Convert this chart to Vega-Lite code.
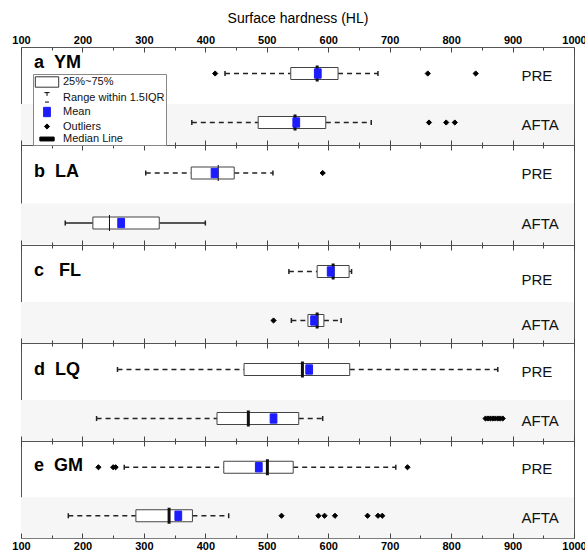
{
  "$schema": "https://vega.github.io/schema/vega-lite/v6.json",
  "padding": {"left": 11, "top": 10, "right": 0, "bottom": 0},
  "bounds": "flush",
  "spacing": 0,
  "config": {
    "font": "Liberation Sans",
    "view": {"stroke": "#555555", "strokeWidth": 1},
    "concat": {"spacing": 0},
    "tick": {"opacity": 1},
    "axis": {"tickColor": "#444444", "domain": false, "grid": false, "labelFlush": false, "labelOverlap": false},
    "title": {"anchor": "start", "frame": "group", "baseline": "alphabetic", "fontSize": 18, "fontWeight": "bold", "color": "#000000", "dx": 13}
  },
  "datasets": {
    "boxes": [
      {"panel": "a", "group": "PRE", "lo": 432, "q1": 539, "med": 582, "q3": 616, "hi": 681},
      {"panel": "a", "group": "AFTA", "lo": 378, "q1": 486, "med": 546, "q3": 596, "hi": 670},
      {"panel": "b", "group": "PRE", "lo": 303, "q1": 377, "med": 421, "q3": 447, "hi": 510},
      {"panel": "b", "group": "AFTA", "lo": 172, "q1": 217, "med": 244, "q3": 325, "hi": 400},
      {"panel": "c", "group": "PRE", "lo": 536, "q1": 582, "med": 608, "q3": 634, "hi": 638},
      {"panel": "c", "group": "AFTA", "lo": 540, "q1": 567, "med": 582, "q3": 593, "hi": 621},
      {"panel": "d", "group": "PRE", "lo": 257, "q1": 463, "med": 558, "q3": 635, "hi": 876},
      {"panel": "d", "group": "AFTA", "lo": 223, "q1": 419, "med": 470, "q3": 552, "hi": 591},
      {"panel": "e", "group": "PRE", "lo": 268, "q1": 430, "med": 501, "q3": 543, "hi": 710},
      {"panel": "e", "group": "AFTA", "lo": 177, "q1": 287, "med": 341, "q3": 379, "hi": 438}
    ],
    "points": [
      {"panel": "a", "group": "PRE", "kind": "Outliers", "v": 416},
      {"panel": "a", "group": "PRE", "kind": "Outliers", "v": 762},
      {"panel": "a", "group": "PRE", "kind": "Outliers", "v": 840},
      {"panel": "a", "group": "PRE", "kind": "Mean", "v": 583},
      {"panel": "a", "group": "AFTA", "kind": "Outliers", "v": 764},
      {"panel": "a", "group": "AFTA", "kind": "Outliers", "v": 792},
      {"panel": "a", "group": "AFTA", "kind": "Outliers", "v": 806},
      {"panel": "a", "group": "AFTA", "kind": "Mean", "v": 548},
      {"panel": "b", "group": "PRE", "kind": "Outliers", "v": 591},
      {"panel": "b", "group": "PRE", "kind": "Mean", "v": 415},
      {"panel": "b", "group": "AFTA", "kind": "Mean", "v": 263},
      {"panel": "c", "group": "PRE", "kind": "Mean", "v": 604},
      {"panel": "c", "group": "AFTA", "kind": "Outliers", "v": 511},
      {"panel": "c", "group": "AFTA", "kind": "Mean", "v": 577},
      {"panel": "d", "group": "PRE", "kind": "Mean", "v": 569},
      {"panel": "d", "group": "AFTA", "kind": "Outliers", "v": 856},
      {"panel": "d", "group": "AFTA", "kind": "Outliers", "v": 860},
      {"panel": "d", "group": "AFTA", "kind": "Outliers", "v": 864},
      {"panel": "d", "group": "AFTA", "kind": "Outliers", "v": 868},
      {"panel": "d", "group": "AFTA", "kind": "Outliers", "v": 872},
      {"panel": "d", "group": "AFTA", "kind": "Outliers", "v": 876},
      {"panel": "d", "group": "AFTA", "kind": "Outliers", "v": 880},
      {"panel": "d", "group": "AFTA", "kind": "Outliers", "v": 884},
      {"panel": "d", "group": "AFTA", "kind": "Mean", "v": 511},
      {"panel": "e", "group": "PRE", "kind": "Outliers", "v": 226},
      {"panel": "e", "group": "PRE", "kind": "Outliers", "v": 250},
      {"panel": "e", "group": "PRE", "kind": "Outliers", "v": 254},
      {"panel": "e", "group": "PRE", "kind": "Outliers", "v": 729},
      {"panel": "e", "group": "PRE", "kind": "Mean", "v": 487},
      {"panel": "e", "group": "AFTA", "kind": "Outliers", "v": 524},
      {"panel": "e", "group": "AFTA", "kind": "Outliers", "v": 584},
      {"panel": "e", "group": "AFTA", "kind": "Outliers", "v": 594},
      {"panel": "e", "group": "AFTA", "kind": "Outliers", "v": 611},
      {"panel": "e", "group": "AFTA", "kind": "Outliers", "v": 664},
      {"panel": "e", "group": "AFTA", "kind": "Outliers", "v": 681},
      {"panel": "e", "group": "AFTA", "kind": "Outliers", "v": 688},
      {"panel": "e", "group": "AFTA", "kind": "Mean", "v": 356}
    ]
  },
  "vconcat": [
    {
      "width": 553, "height": 98,
      "title": {"text": "a\u00a0\u00a0YM", "offset": -61},
      "data": {"name": "boxes"},
      "transform": [{"filter": "datum.panel === 'a'"}],
      "resolve": {"axis": {"x": "independent"}},
      "layer": [
        {
          "data": {"values": [{"group": "AFTA", "start": 100, "end": 1000}]},
          "mark": {"type": "bar", "color": "#f6f6f6", "size": 41, "yOffset": 4},
          "encoding": {
            "x": {"field": "start", "type": "quantitative", "scale": {"domain": [100, 1000], "nice": false, "zero": false},
              "axis": {"orient": "top", "zindex": 1, "values": [100,150,200,250,300,350,400,450,500,550,600,650,700,750,800,850,900,950,1000], "format": "d",
                "labelExpr": "datum.value % 100 === 0 ? datum.label : ''",
                "tickSize": {"condition": {"test": "datum.value % 100 === 0", "value": -5}, "value": -3},
                "labelFontWeight": "bold", "labelFontSize": 11, "labelColor": "#000000", "labelPadding": 7,
                "title": "Surface hardness (HL)", "titleFontSize": 14, "titleFontWeight": "normal", "titleColor": "#000000", "titlePadding": 7}},
            "x2": {"field": "end"},
            "y": {"field": "group", "type": "nominal", "scale": {"type": "band", "domain": ["PRE", "AFTA"], "paddingInner": 0, "paddingOuter": 0},
              "axis": {"orient": "right", "zindex": 1, "ticks": false, "labelPadding": -53, "labelAlign": "left", "labelFontSize": 15, "labelColor": "#111111", "labelOffset": 4, "title": null}}
          }
        },
        {
          "mark": {"type": "rule", "color": "#222222", "strokeWidth": 1.3, "yOffset": 2},
          "encoding": {
            "x": {"field": "lo", "type": "quantitative",
              "axis": {"orient": "bottom", "zindex": 1, "values": [100,150,200,250,300,350,400,450,500,550,600,650,700,750,800,850,900,950,1000],
                "labels": false, "tickSize": {"condition": {"test": "datum.value % 100 === 0", "value": -5}, "value": -3}, "title": null}},
            "x2": {"field": "q1"},
            "y": {"field": "group", "type": "nominal"},
            "strokeDash": {"value": [5, 4]}
          }
        },
        {
          "mark": {"type": "rule", "color": "#222222", "strokeWidth": 1.3, "yOffset": 2},
          "encoding": {"x": {"field": "q3", "type": "quantitative", "axis": null}, "x2": {"field": "hi"}, "y": {"field": "group", "type": "nominal"}, "strokeDash": {"value": [5, 4]}}
        },
        {
          "mark": {"type": "tick", "color": "#222222", "size": 5, "thickness": 1.5, "yOffset": 2},
          "encoding": {"x": {"field": "lo", "type": "quantitative", "axis": null}, "y": {"field": "group", "type": "nominal"}}
        },
        {
          "mark": {"type": "tick", "color": "#222222", "size": 5, "thickness": 1.5, "yOffset": 2},
          "encoding": {"x": {"field": "hi", "type": "quantitative", "axis": null}, "y": {"field": "group", "type": "nominal"}}
        },
        {
          "mark": {"type": "bar", "size": 12, "fill": "#ffffff", "stroke": "#444444", "strokeWidth": 1, "yOffset": 2},
          "encoding": {"x": {"field": "q1", "type": "quantitative", "axis": null}, "x2": {"field": "q3"}, "y": {"field": "group", "type": "nominal"}}
        },
        {
          "mark": {"type": "tick", "color": "#111111", "size": 16, "thickness": 3, "yOffset": 2},
          "encoding": {"x": {"field": "med", "type": "quantitative", "axis": null}, "y": {"field": "group", "type": "nominal"}}
        },
        {
          "data": {"name": "points"},
          "transform": [{"filter": "datum.panel === 'a'"}],
          "mark": {"type": "point", "size": 169, "strokeWidth": 1, "opacity": 1, "filled": true, "yOffset": 2},
          "encoding": {
            "x": {"field": "v", "type": "quantitative", "axis": null},
            "y": {"field": "group", "type": "nominal"},
            "fill": {"field": "kind", "type": "nominal",
              "scale": {"domain": ["25%~75%", "Range within 1.5IQR", "Mean", "Outliers", "Median Line"], "range": ["#ffffff", "transparent", "#1c1cff", "#000000", "#000000"]},
              "legend": {"title": null, "orient": "none", "legendX": 12, "legendY": 27, "direction": "vertical", "fillColor": "#ffffff", "strokeColor": "#888888",
                "padding": 1, "symbolSize": 169, "symbolStrokeWidth": 1, "symbolOffset": 6, "labelFontSize": 11, "labelColor": "#111111", "labelOffset": 9, "rowPadding": 0.5}},
            "stroke": {"field": "kind", "type": "nominal",
              "scale": {"domain": ["25%~75%", "Range within 1.5IQR", "Mean", "Outliers", "Median Line"], "range": ["#333333", "#000000", "#1c1cff", "#000000", "#000000"]}},
            "shape": {"field": "kind", "type": "nominal",
              "scale": {"domain": ["25%~75%", "Range within 1.5IQR", "Mean", "Outliers", "Median Line"],
                "range": ["M-1.8,-0.8H1.8V0.8H-1.8Z", "M-0.4,-0.75H0.4M0,-0.75V-0.25M-0.3,0.7H0.3", "M-0.52,-0.72H0.52V0.72H-0.52Z", "M0,-0.4L0.4,0L0,0.4L-0.4,0Z", "M-1.1,-0.3H1.1V0.3H-1.1Z"]}}
          }
        }
      ]
    },
    {
      "width": 553, "height": 100,
      "title": {"text": "b\u00a0\u00a0LA", "offset": -36},
      "data": {"name": "boxes"},
      "transform": [{"filter": "datum.panel === 'b'"}],
      "resolve": {"axis": {"x": "independent"}},
      "layer": [
        {
          "data": {"values": [{"group": "AFTA", "start": 100, "end": 1000}]},
          "mark": {"type": "bar", "color": "#f6f6f6", "size": 41, "yOffset": 4},
          "encoding": {
            "x": {"field": "start", "type": "quantitative", "scale": {"domain": [100, 1000], "nice": false, "zero": false},
              "axis": {"orient": "top", "zindex": 1, "values": [100,150,200,250,300,350,400,450,500,550,600,650,700,750,800,850,900,950,1000],
                "labels": false, "tickSize": {"condition": {"test": "datum.value % 100 === 0", "value": -5}, "value": -3}, "title": null}},
            "x2": {"field": "end"},
            "y": {"field": "group", "type": "nominal", "scale": {"type": "band", "domain": ["PRE", "AFTA"], "paddingInner": 0, "paddingOuter": 0},
              "axis": {"orient": "right", "zindex": 1, "ticks": false, "labelPadding": -53, "labelAlign": "left", "labelFontSize": 15, "labelColor": "#111111", "labelOffset": 4, "title": null}}
          }
        },
        {
          "mark": {"type": "rule", "color": "#222222", "strokeWidth": 1.3, "yOffset": 3},
          "encoding": {
            "x": {"field": "lo", "type": "quantitative",
              "axis": {"orient": "bottom", "zindex": 1, "values": [100,150,200,250,300,350,400,450,500,550,600,650,700,750,800,850,900,950,1000],
                "labels": false, "tickSize": {"condition": {"test": "datum.value % 100 === 0", "value": -5}, "value": -3}, "title": null}},
            "x2": {"field": "q1"},
            "y": {"field": "group", "type": "nominal"},
            "strokeDash": {"condition": {"test": "datum.group === 'AFTA'", "value": [1, 0]}, "value": [5, 4]}
          }
        },
        {
          "mark": {"type": "rule", "color": "#222222", "strokeWidth": 1.3, "yOffset": 3},
          "encoding": {"x": {"field": "q3", "type": "quantitative", "axis": null}, "x2": {"field": "hi"}, "y": {"field": "group", "type": "nominal"},
            "strokeDash": {"condition": {"test": "datum.group === 'AFTA'", "value": [1, 0]}, "value": [5, 4]}}
        },
        {
          "mark": {"type": "tick", "color": "#222222", "size": 5, "thickness": 1.5, "yOffset": 3},
          "encoding": {"x": {"field": "lo", "type": "quantitative", "axis": null}, "y": {"field": "group", "type": "nominal"}}
        },
        {
          "mark": {"type": "tick", "color": "#222222", "size": 5, "thickness": 1.5, "yOffset": 3},
          "encoding": {"x": {"field": "hi", "type": "quantitative", "axis": null}, "y": {"field": "group", "type": "nominal"}}
        },
        {
          "mark": {"type": "bar", "size": 12, "fill": "#ffffff", "stroke": "#444444", "strokeWidth": 1, "yOffset": 3},
          "encoding": {"x": {"field": "q1", "type": "quantitative", "axis": null}, "x2": {"field": "q3"}, "y": {"field": "group", "type": "nominal"}}
        },
        {
          "mark": {"type": "tick", "color": "#111111", "size": 16, "yOffset": 3},
          "encoding": {"x": {"field": "med", "type": "quantitative", "axis": null}, "y": {"field": "group", "type": "nominal"},
            "strokeWidth": {"condition": {"test": "datum.group === 'AFTA'", "value": 1.6}, "value": 3}}
        },
        {
          "data": {"name": "points"},
          "transform": [{"filter": "datum.panel === 'b'"}],
          "mark": {"type": "point", "size": 169, "strokeWidth": 1, "opacity": 1, "filled": true, "yOffset": 3},
          "encoding": {
            "x": {"field": "v", "type": "quantitative", "axis": null},
            "y": {"field": "group", "type": "nominal"},
            "fill": {"field": "kind", "type": "nominal"},
            "stroke": {"field": "kind", "type": "nominal"},
            "shape": {"field": "kind", "type": "nominal"}
          }
        }
      ]
    },
    {
      "width": 553, "height": 98,
      "title": {"text": "c\u00a0\u00a0\u00a0FL", "offset": -35},
      "data": {"name": "boxes"},
      "transform": [{"filter": "datum.panel === 'c'"}],
      "resolve": {"axis": {"x": "independent"}},
      "layer": [
        {
          "data": {"values": [{"group": "AFTA", "start": 100, "end": 1000}]},
          "mark": {"type": "bar", "color": "#f6f6f6", "size": 41, "yOffset": 4},
          "encoding": {
            "x": {"field": "start", "type": "quantitative", "scale": {"domain": [100, 1000], "nice": false, "zero": false},
              "axis": {"orient": "top", "zindex": 1, "values": [100,150,200,250,300,350,400,450,500,550,600,650,700,750,800,850,900,950,1000],
                "labels": false, "tickSize": {"condition": {"test": "datum.value % 100 === 0", "value": -5}, "value": -3}, "title": null}},
            "x2": {"field": "end"},
            "y": {"field": "group", "type": "nominal", "scale": {"type": "band", "domain": ["PRE", "AFTA"], "paddingInner": 0, "paddingOuter": 0},
              "axis": {"orient": "right", "zindex": 1, "ticks": false, "labelPadding": -53, "labelAlign": "left", "labelFontSize": 15, "labelColor": "#111111",
                "labelOffset": {"condition": {"test": "datum.value === 'PRE'", "value": 10}, "value": 6}, "title": null}}
          }
        },
        {
          "mark": {"type": "rule", "color": "#222222", "strokeWidth": 1.3, "yOffset": 2},
          "encoding": {
            "x": {"field": "lo", "type": "quantitative",
              "axis": {"orient": "bottom", "zindex": 1, "values": [100,150,200,250,300,350,400,450,500,550,600,650,700,750,800,850,900,950,1000],
                "labels": false, "tickSize": {"condition": {"test": "datum.value % 100 === 0", "value": -5}, "value": -3}, "title": null}},
            "x2": {"field": "q1"},
            "y": {"field": "group", "type": "nominal"},
            "strokeDash": {"value": [5, 4]}
          }
        },
        {
          "mark": {"type": "rule", "color": "#222222", "strokeWidth": 1.3, "yOffset": 2},
          "encoding": {"x": {"field": "q3", "type": "quantitative", "axis": null}, "x2": {"field": "hi"}, "y": {"field": "group", "type": "nominal"}, "strokeDash": {"value": [5, 4]}}
        },
        {
          "mark": {"type": "tick", "color": "#222222", "size": 5, "thickness": 1.5, "yOffset": 2},
          "encoding": {"x": {"field": "lo", "type": "quantitative", "axis": null}, "y": {"field": "group", "type": "nominal"}}
        },
        {
          "mark": {"type": "tick", "color": "#222222", "size": 5, "thickness": 1.5, "yOffset": 2},
          "encoding": {"x": {"field": "hi", "type": "quantitative", "axis": null}, "y": {"field": "group", "type": "nominal"}}
        },
        {
          "mark": {"type": "bar", "size": 12, "fill": "#ffffff", "stroke": "#444444", "strokeWidth": 1, "yOffset": 2},
          "encoding": {"x": {"field": "q1", "type": "quantitative", "axis": null}, "x2": {"field": "q3"}, "y": {"field": "group", "type": "nominal"}}
        },
        {
          "mark": {"type": "tick", "color": "#111111", "size": 16, "thickness": 3, "yOffset": 2},
          "encoding": {"x": {"field": "med", "type": "quantitative", "axis": null}, "y": {"field": "group", "type": "nominal"}}
        },
        {
          "data": {"name": "points"},
          "transform": [{"filter": "datum.panel === 'c'"}],
          "mark": {"type": "point", "size": 169, "strokeWidth": 1, "opacity": 1, "filled": true, "yOffset": 2},
          "encoding": {
            "x": {"field": "v", "type": "quantitative", "axis": null},
            "y": {"field": "group", "type": "nominal"},
            "fill": {"field": "kind", "type": "nominal"},
            "stroke": {"field": "kind", "type": "nominal"},
            "shape": {"field": "kind", "type": "nominal"}
          }
        }
      ]
    },
    {
      "width": 553, "height": 98,
      "title": {"text": "d\u00a0\u00a0LQ", "offset": -36},
      "data": {"name": "boxes"},
      "transform": [{"filter": "datum.panel === 'd'"}],
      "resolve": {"axis": {"x": "independent"}},
      "layer": [
        {
          "data": {"values": [{"group": "AFTA", "start": 100, "end": 1000}]},
          "mark": {"type": "bar", "color": "#f6f6f6", "size": 41, "yOffset": 4},
          "encoding": {
            "x": {"field": "start", "type": "quantitative", "scale": {"domain": [100, 1000], "nice": false, "zero": false},
              "axis": {"orient": "top", "zindex": 1, "values": [100,150,200,250,300,350,400,450,500,550,600,650,700,750,800,850,900,950,1000],
                "labels": false, "tickSize": {"condition": {"test": "datum.value % 100 === 0", "value": -5}, "value": -3}, "title": null}},
            "x2": {"field": "end"},
            "y": {"field": "group", "type": "nominal", "scale": {"type": "band", "domain": ["PRE", "AFTA"], "paddingInner": 0, "paddingOuter": 0},
              "axis": {"orient": "right", "zindex": 1, "ticks": false, "labelPadding": -53, "labelAlign": "left", "labelFontSize": 15, "labelColor": "#111111", "labelOffset": 4, "title": null}}
          }
        },
        {
          "mark": {"type": "rule", "color": "#222222", "strokeWidth": 1.3, "yOffset": 2},
          "encoding": {
            "x": {"field": "lo", "type": "quantitative",
              "axis": {"orient": "bottom", "zindex": 1, "values": [100,150,200,250,300,350,400,450,500,550,600,650,700,750,800,850,900,950,1000],
                "labels": false, "tickSize": {"condition": {"test": "datum.value % 100 === 0", "value": -5}, "value": -3}, "title": null}},
            "x2": {"field": "q1"},
            "y": {"field": "group", "type": "nominal"},
            "strokeDash": {"value": [5, 4]}
          }
        },
        {
          "mark": {"type": "rule", "color": "#222222", "strokeWidth": 1.3, "yOffset": 2},
          "encoding": {"x": {"field": "q3", "type": "quantitative", "axis": null}, "x2": {"field": "hi"}, "y": {"field": "group", "type": "nominal"}, "strokeDash": {"value": [5, 4]}}
        },
        {
          "mark": {"type": "tick", "color": "#222222", "size": 5, "thickness": 1.5, "yOffset": 2},
          "encoding": {"x": {"field": "lo", "type": "quantitative", "axis": null}, "y": {"field": "group", "type": "nominal"}}
        },
        {
          "mark": {"type": "tick", "color": "#222222", "size": 5, "thickness": 1.5, "yOffset": 2},
          "encoding": {"x": {"field": "hi", "type": "quantitative", "axis": null}, "y": {"field": "group", "type": "nominal"}}
        },
        {
          "mark": {"type": "bar", "size": 12, "fill": "#ffffff", "stroke": "#444444", "strokeWidth": 1, "yOffset": 2},
          "encoding": {"x": {"field": "q1", "type": "quantitative", "axis": null}, "x2": {"field": "q3"}, "y": {"field": "group", "type": "nominal"}}
        },
        {
          "mark": {"type": "tick", "color": "#111111", "size": 16, "thickness": 3, "yOffset": 2},
          "encoding": {"x": {"field": "med", "type": "quantitative", "axis": null}, "y": {"field": "group", "type": "nominal"}}
        },
        {
          "data": {"name": "points"},
          "transform": [{"filter": "datum.panel === 'd'"}],
          "mark": {"type": "point", "size": 169, "strokeWidth": 1, "opacity": 1, "filled": true, "yOffset": 2},
          "encoding": {
            "x": {"field": "v", "type": "quantitative", "axis": null},
            "y": {"field": "group", "type": "nominal"},
            "fill": {"field": "kind", "type": "nominal"},
            "stroke": {"field": "kind", "type": "nominal"},
            "shape": {"field": "kind", "type": "nominal"}
          }
        }
      ]
    },
    {
      "width": 553, "height": 97,
      "title": {"text": "e\u00a0\u00a0GM", "offset": -34},
      "data": {"name": "boxes"},
      "transform": [{"filter": "datum.panel === 'e'"}],
      "resolve": {"axis": {"x": "independent"}},
      "layer": [
        {
          "data": {"values": [{"group": "AFTA", "start": 100, "end": 1000}]},
          "mark": {"type": "bar", "color": "#f6f6f6", "size": 41, "yOffset": 4},
          "encoding": {
            "x": {"field": "start", "type": "quantitative", "scale": {"domain": [100, 1000], "nice": false, "zero": false},
              "axis": {"orient": "top", "zindex": 1, "values": [100,150,200,250,300,350,400,450,500,550,600,650,700,750,800,850,900,950,1000],
                "labels": false, "tickSize": {"condition": {"test": "datum.value % 100 === 0", "value": -5}, "value": -3}, "title": null}},
            "x2": {"field": "end"},
            "y": {"field": "group", "type": "nominal", "scale": {"type": "band", "domain": ["PRE", "AFTA"], "paddingInner": 0, "paddingOuter": 0},
              "axis": {"orient": "right", "zindex": 1, "ticks": false, "labelPadding": -53, "labelAlign": "left", "labelFontSize": 15, "labelColor": "#111111", "labelOffset": 4, "title": null}}
          }
        },
        {
          "mark": {"type": "rule", "color": "#222222", "strokeWidth": 1.3, "yOffset": 2},
          "encoding": {
            "x": {"field": "lo", "type": "quantitative",
              "axis": {"orient": "bottom", "zindex": 1, "values": [100,150,200,250,300,350,400,450,500,550,600,650,700,750,800,850,900,950,1000], "format": "d",
                "labelExpr": "datum.value % 100 === 0 ? datum.label : ''",
                "tickSize": {"condition": {"test": "datum.value % 100 === 0", "value": -5}, "value": -3},
                "labelFontWeight": "bold", "labelFontSize": 11, "labelColor": "#000000", "labelPadding": 7, "title": null}},
            "x2": {"field": "q1"},
            "y": {"field": "group", "type": "nominal"},
            "strokeDash": {"value": [5, 4]}
          }
        },
        {
          "mark": {"type": "rule", "color": "#222222", "strokeWidth": 1.3, "yOffset": 2},
          "encoding": {"x": {"field": "q3", "type": "quantitative", "axis": null}, "x2": {"field": "hi"}, "y": {"field": "group", "type": "nominal"}, "strokeDash": {"value": [5, 4]}}
        },
        {
          "mark": {"type": "tick", "color": "#222222", "size": 5, "thickness": 1.5, "yOffset": 2},
          "encoding": {"x": {"field": "lo", "type": "quantitative", "axis": null}, "y": {"field": "group", "type": "nominal"}}
        },
        {
          "mark": {"type": "tick", "color": "#222222", "size": 5, "thickness": 1.5, "yOffset": 2},
          "encoding": {"x": {"field": "hi", "type": "quantitative", "axis": null}, "y": {"field": "group", "type": "nominal"}}
        },
        {
          "mark": {"type": "bar", "size": 12, "fill": "#ffffff", "stroke": "#444444", "strokeWidth": 1, "yOffset": 2},
          "encoding": {"x": {"field": "q1", "type": "quantitative", "axis": null}, "x2": {"field": "q3"}, "y": {"field": "group", "type": "nominal"}}
        },
        {
          "mark": {"type": "tick", "color": "#111111", "size": 16, "thickness": 3, "yOffset": 2},
          "encoding": {"x": {"field": "med", "type": "quantitative", "axis": null}, "y": {"field": "group", "type": "nominal"}}
        },
        {
          "data": {"name": "points"},
          "transform": [{"filter": "datum.panel === 'e'"}],
          "mark": {"type": "point", "size": 169, "strokeWidth": 1, "opacity": 1, "filled": true, "yOffset": 2},
          "encoding": {
            "x": {"field": "v", "type": "quantitative", "axis": null},
            "y": {"field": "group", "type": "nominal"},
            "fill": {"field": "kind", "type": "nominal"},
            "stroke": {"field": "kind", "type": "nominal"},
            "shape": {"field": "kind", "type": "nominal"}
          }
        }
      ]
    }
  ]
}
